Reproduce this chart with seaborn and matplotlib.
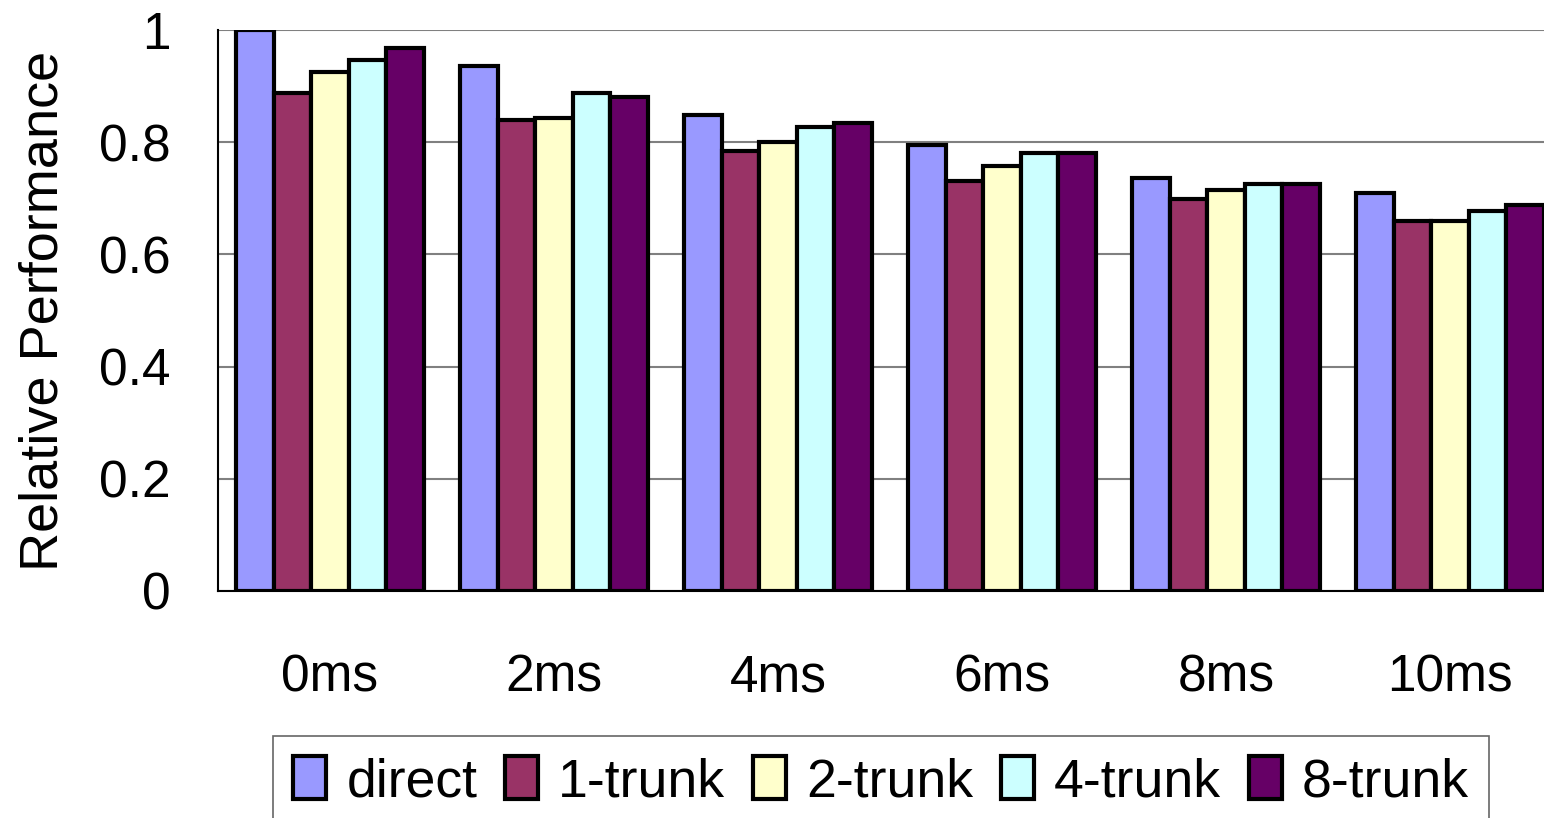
import numpy as np
import pandas as pd
import matplotlib
matplotlib.use("Agg")
import matplotlib.pyplot as plt
import seaborn as sns
from matplotlib.ticker import FixedLocator

# data
delays = ["0ms", "2ms", "4ms", "6ms", "8ms", "10ms"]
series = ["direct", "1-trunk", "2-trunk", "4-trunk", "8-trunk"]
direct = [1.000, 0.936, 0.849, 0.795, 0.736, 0.709]
trunk1 = [0.888, 0.840, 0.784, 0.731, 0.699, 0.660]
trunk2 = [0.925, 0.843, 0.800, 0.758, 0.715, 0.660]
trunk4 = [0.946, 0.888, 0.827, 0.781, 0.725, 0.677]
trunk8 = [0.968, 0.881, 0.834, 0.781, 0.725, 0.688]
colors = ["#9999FF", "#993366", "#FFFFCC", "#CCFFFF", "#660066"]
yticks = [0, 0.2, 0.4, 0.6, 0.8, 1.0]
ytick_labels = ["0", "0.2", "0.4", "0.6", "0.8", "1"]

df = pd.DataFrame({"delay": delays * 5,
                   "series": np.repeat(series, len(delays)),
                   "value": direct + trunk1 + trunk2 + trunk4 + trunk8})

sns.set_style("white")
plt.rcParams['font.family'] = ['Liberation Sans', 'DejaVu Sans']
plt.rcParams['text.color'] = 'black'
plt.rcParams['xtick.color'] = 'black'
plt.rcParams['ytick.color'] = 'black'
plt.rcParams['axes.labelcolor'] = 'black'

fig = plt.figure(figsize=(15.44, 8.18), dpi=100)
ax = fig.add_axes([218 / 1544, 227 / 818, 1344 / 1544, 561 / 818])

sns.barplot(data=df, x="delay", y="value", hue="series", order=delays,
            hue_order=series, palette=colors, saturation=1, width=0.84, gap=0,
            edgecolor="black", linewidth=3, ax=ax, zorder=3)

ax.set_xlim(-0.5, 5.5)
ax.set_ylim(0, 1)
ax.yaxis.set_major_locator(FixedLocator(yticks))
ax.set_yticklabels(ytick_labels)
ax.grid(axis="y", color="#808080", linewidth=1.5, zorder=0)
ax.set_axisbelow(True)
for s in ["top", "right"]:
    ax.spines[s].set_visible(False)
for s in ["left", "bottom"]:
    ax.spines[s].set_color("black")
    ax.spines[s].set_linewidth(1.5)

ax.tick_params(axis="x", which="major", length=0, pad=45, labelsize=37)
ax.xaxis.set_minor_locator(FixedLocator(np.arange(0.5, 5.5, 1)))
ax.tick_params(axis="x", which="minor", direction="in", length=11, width=1.2, color="#606060")
ax.tick_params(axis="y", length=0, pad=34, labelsize=37)
ax.set_xlabel("")
ax.set_ylabel("Relative Performance", fontsize=39, labelpad=22)

handles, labels = ax.get_legend_handles_labels()
ax.get_legend().remove()
leg = fig.legend(handles, labels, loc="upper left", bbox_to_anchor=(273 / 1544, 1 - 736 / 818),
                 ncol=5, frameon=True, fancybox=False, fontsize=38.5,
                 handlelength=0.62, handleheight=0.85, handletextpad=0.37,
                 columnspacing=0.52, borderpad=0.38, borderaxespad=0)
leg.get_frame().set_edgecolor("#404040")
leg.get_frame().set_linewidth(1.2)
for h in leg.legend_handles:
    h.set_edgecolor("black")
    h.set_linewidth(3)

fig.savefig("out.png", dpi=100)
